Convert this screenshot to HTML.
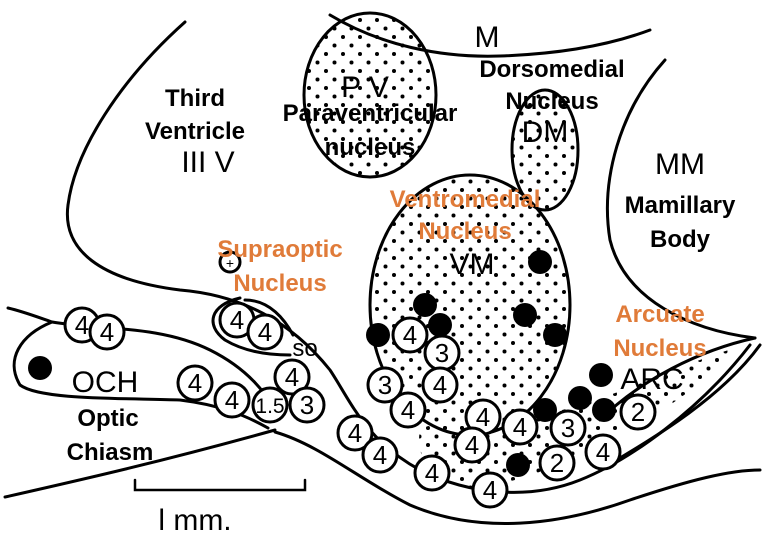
<!DOCTYPE html>
<html><head><meta charset="utf-8"><style>
body{margin:0;background:#fff}
svg{display:block}
.b{font-family:"Liberation Sans",sans-serif;font-weight:bold;font-size:24px;text-anchor:middle}
.o{fill:#e07b39}
.l{font-family:"Liberation Sans",sans-serif;font-size:30px;text-anchor:middle}
.n{font-family:"Liberation Sans",sans-serif;font-size:24px;text-anchor:middle}
</style></head><body>
<svg width="780" height="538" viewBox="0 0 780 538" xmlns="http://www.w3.org/2000/svg">
<defs>
<pattern id="dots" width="17" height="17" patternUnits="userSpaceOnUse">
<circle cx="3" cy="3" r="2" fill="#000"/><circle cx="11.5" cy="11.5" r="2" fill="#000"/>
</pattern>
</defs>
<g fill="none" stroke="#000" stroke-width="3" stroke-linecap="round">
<ellipse cx="370" cy="95" rx="66" ry="82" fill="url(#dots)"/>
<ellipse cx="545" cy="150" rx="33" ry="60" fill="url(#dots)"/>
<ellipse cx="470" cy="305" rx="100" ry="130" fill="url(#dots)"/>
<path d="M420,430 C440,415 520,425 580,405 C630,390 680,365 735,348 C710,380 660,415 610,440 C570,460 520,485 470,488 C430,485 415,455 420,430Z" fill="url(#dots)" stroke="none"/>
<path d="M330,15 C380,45 440,58 500,56 C560,54 610,45 650,30"/>
<path d="M665,60 C620,110 600,180 610,240 C625,300 690,330 755,338"/>
<path d="M755,338 C700,350 640,380 600,420"/>
<path d="M760,345 C720,400 650,440 600,470"/>
<path d="M185,22 C120,80 75,150 68,205 C62,250 100,280 180,290 C240,295 290,320 330,370 C350,400 365,440 420,470 C470,495 530,500 580,480 C630,460 700,410 750,345"/>
<path d="M275,432 C320,445 360,480 410,505 C480,535 560,525 630,500 C690,480 730,470 760,470"/>
<path d="M8,308 C25,312 40,318 52,322 C20,335 5,360 20,385 C40,400 120,398 180,400 C220,405 245,415 268,428"/>
<path d="M52,322 C100,330 160,325 210,350 C240,365 260,385 272,405"/>
<path d="M5,497 C80,480 160,462 275,430"/>
<path d="M240,298 C210,305 205,325 225,340 C245,352 270,355 290,355"/>
<path d="M245,300 C270,300 285,320 293,335"/>
<path d="M135,480 L135,490 L305,490 L305,480" stroke-width="2.5"/>
</g>
<g font-family="Liberation Sans,sans-serif" font-size="26" text-anchor="middle">
<g fill="#fff" stroke="#000" stroke-width="3">
<circle cx="82" cy="325" r="17"/><circle cx="107" cy="332" r="17"/>
<circle cx="237" cy="320" r="17"/><circle cx="265" cy="332" r="17"/>
<circle cx="292" cy="377" r="17"/><circle cx="195" cy="383" r="17"/><circle cx="232" cy="400" r="17"/>
<circle cx="270" cy="405" r="17"/><circle cx="307" cy="405" r="17"/>
<circle cx="355" cy="433" r="17"/><circle cx="380" cy="455" r="17"/>
<circle cx="410" cy="335" r="17"/><circle cx="442" cy="353" r="17"/><circle cx="440" cy="385" r="17"/>
<circle cx="385" cy="385" r="17"/><circle cx="408" cy="410" r="17"/>
<circle cx="483" cy="417" r="17"/><circle cx="520" cy="427" r="17"/><circle cx="568" cy="428" r="17"/>
<circle cx="472" cy="445" r="17"/><circle cx="638" cy="412" r="17"/><circle cx="603" cy="452" r="17"/>
<circle cx="557" cy="463" r="17"/><circle cx="432" cy="473" r="17"/><circle cx="490" cy="490" r="17"/>
<circle cx="230" cy="262" r="10"/>
</g>
<g fill="#000">
<text x="82" y="334">4</text><text x="107" y="341">4</text>
<text x="237" y="329">4</text><text x="265" y="341">4</text>
<text x="292" y="386">4</text><text x="195" y="392">4</text><text x="232" y="409">4</text>
<text x="270" y="413" font-size="21">1.5</text><text x="307" y="414">3</text>
<text x="355" y="442">4</text><text x="380" y="464">4</text>
<text x="410" y="344">4</text><text x="442" y="362">3</text><text x="440" y="394">4</text>
<text x="385" y="394">3</text><text x="408" y="419">4</text>
<text x="483" y="426">4</text><text x="520" y="436">4</text><text x="568" y="437">3</text>
<text x="472" y="454">4</text><text x="638" y="421">2</text><text x="603" y="461">4</text>
<text x="557" y="472">2</text><text x="432" y="482">4</text><text x="490" y="499">4</text>
<text x="230" y="268" font-size="14">+</text>
<circle cx="40" cy="368" r="12"/><circle cx="540" cy="262" r="12"/><circle cx="425" cy="305" r="12"/>
<circle cx="378" cy="335" r="12"/><circle cx="440" cy="325" r="12"/><circle cx="525" cy="315" r="12"/>
<circle cx="555" cy="335" r="12"/><circle cx="601" cy="375" r="12"/><circle cx="580" cy="398" r="12"/>
<circle cx="604" cy="410" r="12"/><circle cx="545" cy="410" r="12"/><circle cx="518" cy="465" r="12"/>
</g>
</g>
<text class="b" x="195" y="106">Third</text>
<text class="b" x="195" y="139">Ventricle</text>
<text class="l" x="208" y="172">III V</text>
<text class="l" x="365" y="97">P V</text>
<text class="b" x="370" y="121">Paraventricular</text>
<text class="b" x="370" y="155">nucleus</text>
<text class="l" x="487" y="47">M</text>
<text class="b" x="552" y="77">Dorsomedial</text>
<text class="b" x="552" y="109">Nucleus</text>
<text class="l" x="545" y="142">DM</text>
<text class="l" x="680" y="174">MM</text>
<text class="b" x="680" y="213">Mamillary</text>
<text class="b" x="680" y="247">Body</text>
<text class="b o" x="465" y="207">Ventromedial</text>
<text class="b o" x="465" y="239">Nucleus</text>
<text class="l" x="472" y="274">VM</text>
<text class="b o" x="280" y="257">Supraoptic</text>
<text class="b o" x="280" y="291">Nucleus</text>
<text class="n" x="305" y="356">so</text>
<text class="b o" x="660" y="322">Arcuate</text>
<text class="b o" x="660" y="356">Nucleus</text>
<text class="l" x="652" y="389">ARC</text>
<text class="l" x="105" y="392">OCH</text>
<text class="b" x="108" y="426">Optic</text>
<text class="b" x="110" y="460">Chiasm</text>
<text class="l" x="195" y="530">l mm.</text>
</svg>
</body></html>
